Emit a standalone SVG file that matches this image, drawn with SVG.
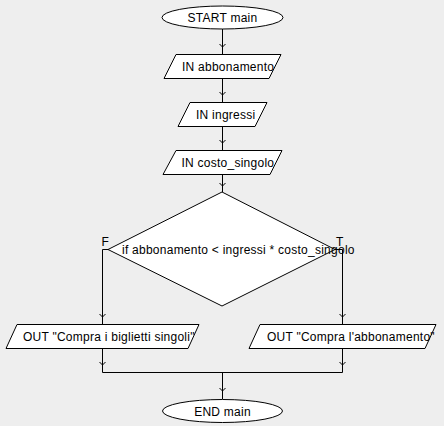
<svg xmlns="http://www.w3.org/2000/svg" xmlns:xlink="http://www.w3.org/1999/xlink" width="444" height="426" viewBox="0 0 444 426">
<style>
.shape{fill:#ffffff;stroke:#000000;stroke-width:1}
.conn{fill:none;stroke:#000000;stroke-width:1}
text{font-family:"Liberation Sans",Arial,sans-serif;font-size:12px;fill:#000000;letter-spacing:0.25px}
</style>
<defs>
<path id="chev" d="M-3,-3 L0,0 L3,-3" fill="none" stroke="#000" stroke-width="1"/>
</defs>
<rect x="0" y="0" width="444" height="426" fill="#eeeeee"/>
<g id="connectors">
<path class="conn" d="M222.5,29 V54"/>
<path class="conn" d="M222.5,78 V102"/>
<path class="conn" d="M222.5,126 V150"/>
<path class="conn" d="M222.5,174 V192"/>
<path class="conn" d="M108,249.5 H102.5 V324"/>
<path class="conn" d="M335,249.5 H342.5 V324"/>
<path class="conn" d="M102.5,348 V372.5 H342.5 V348"/>
<path class="conn" d="M222.5,372.5 V399"/>
<use xlink:href="#chev" x="222.5" y="47"/>
<use xlink:href="#chev" x="222.5" y="95"/>
<use xlink:href="#chev" x="222.5" y="143"/>
<use xlink:href="#chev" x="222.5" y="186"/>
<use xlink:href="#chev" x="102.5" y="317"/>
<use xlink:href="#chev" x="342.5" y="317"/>
<use xlink:href="#chev" x="102.5" y="365"/>
<use xlink:href="#chev" x="342.5" y="365"/>
<use xlink:href="#chev" x="222.5" y="391"/>
</g>
<g id="start">
<ellipse class="shape" cx="222.5" cy="17.5" rx="60.5" ry="11.5"/>
<text x="222.5" y="22" text-anchor="middle">START main</text>
</g>
<g id="in1">
<polygon class="shape" points="176,54.5 281,54.5 269,78.5 164,78.5"/>
<text x="182" y="70.5">IN abbonamento</text>
</g>
<g id="in2">
<polygon class="shape" points="190,102.5 267,102.5 255,126.5 178,126.5"/>
<text x="196" y="118.5">IN ingressi</text>
</g>
<g id="in3">
<polygon class="shape" points="176,150.5 282,150.5 270,174.5 163,174.5"/>
<text x="181.5" y="166.5">IN costo_singolo</text>
</g>
<g id="decision">
<polygon class="shape" points="222,192 335,249.5 222,306 108,249.5"/>
<text x="122" y="253.5">if abbonamento &lt; ingressi * costo_singolo</text>
<text x="101.5" y="246">F</text>
<text x="336" y="246">T</text>
</g>
<g id="out1">
<polygon class="shape" points="17,324.5 199,324.5 188,348.5 6,348.5"/>
<text x="23" y="340.5">OUT "Compra i biglietti singoli"</text>
</g>
<g id="out2">
<polygon class="shape" points="260,324.5 436,324.5 425,348.5 249,348.5"/>
<text x="267" y="340.5">OUT "Compra l'abbonamento"</text>
</g>
<g id="end">
<ellipse class="shape" cx="222.5" cy="411" rx="60" ry="11.5"/>
<text x="222.5" y="415.5" text-anchor="middle">END main</text>
</g>
</svg>
